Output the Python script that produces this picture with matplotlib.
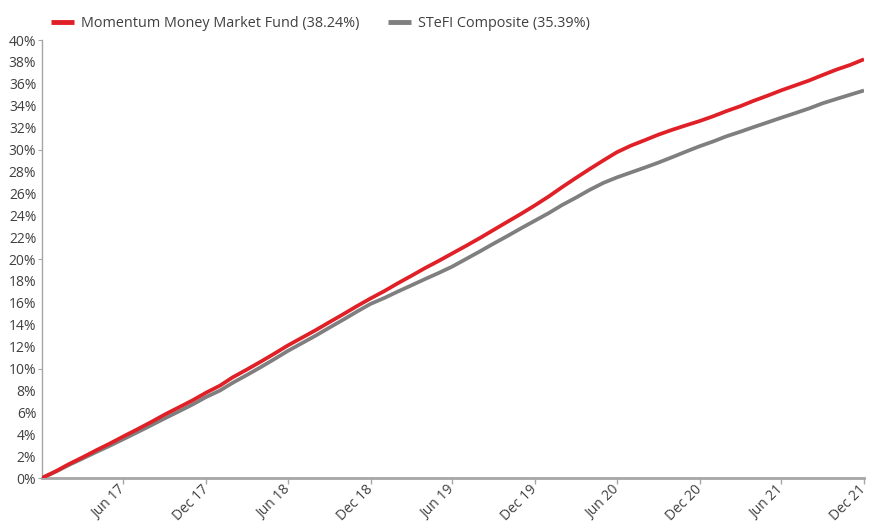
import matplotlib
matplotlib.use("Agg")
import matplotlib.pyplot as plt
import matplotlib.ticker as mticker
import pandas as pd

dates = pd.date_range("2016-12-31", "2021-12-31", freq="ME")

fund = [0.00, 0.62, 1.25, 1.88, 2.52, 3.15, 3.80, 4.45, 5.12, 5.80, 6.45, 7.08, 7.80,
        8.45, 9.20, 9.90, 10.60, 11.35, 12.10, 12.80, 13.50, 14.22, 14.95, 15.68, 16.40,
        17.08, 17.75, 18.45, 19.15, 19.82, 20.50, 21.20, 21.92, 22.65, 23.40, 24.12, 24.90,
        25.72, 26.55, 27.40, 28.20, 29.00, 29.75, 30.35, 30.85, 31.35, 31.80, 32.20, 32.60,
        33.05, 33.50, 33.95, 34.45, 34.92, 35.40, 35.85, 36.30, 36.80, 37.30, 37.72, 38.24]

stefi = [0.00, 0.58, 1.17, 1.77, 2.36, 2.95, 3.55, 4.18, 4.82, 5.45, 6.08, 6.70, 7.40,
         8.00, 8.70, 9.40, 10.10, 10.85, 11.60, 12.30, 13.00, 13.72, 14.45, 15.18, 15.90,
         16.45, 17.00, 17.58, 18.15, 18.72, 19.30, 20.00, 20.70, 21.40, 22.10, 22.80, 23.50,
         24.20, 24.92, 25.60, 26.30, 26.95, 27.45, 27.90, 28.35, 28.80, 29.30, 29.80, 30.30,
         30.75, 31.20, 31.62, 32.05, 32.48, 32.90, 33.32, 33.75, 34.22, 34.62, 35.00, 35.39]

tick_labels = ["Jun 17", "Dec 17", "Jun 18", "Dec 18", "Jun 19", "Dec 19",
               "Jun 20", "Dec 20", "Jun 21", "Dec 21"]
tick_dates = pd.to_datetime(["2017-06-30", "2017-12-31", "2018-06-30", "2018-12-31",
                             "2019-06-30", "2019-12-31", "2020-06-30", "2020-12-31",
                             "2021-06-30", "2021-12-31"])

series_names = ["Momentum Money Market Fund (38.24%)", "STeFI Composite (35.39%)"]

plt.rcParams['font.family'] = ['Open Sans', 'DejaVu Sans']
text_color = "#404040"
axis_color = "#a6a6a6"

fig = plt.figure(figsize=(8.73, 5.25), dpi=100)
ax = fig.add_axes([0.048, 0.0895, 0.9417, 0.8343])

ax.plot(dates, fund, color="#e02027", lw=2.7, label=series_names[0], zorder=3,
        solid_capstyle="butt")
ax.plot(dates, stefi, color="#7f7f7f", lw=2.7, label=series_names[1], zorder=2,
        solid_capstyle="butt")

ax.set_xlim(dates[0], dates[-1])
ax.set_ylim(0, 40)

ax.yaxis.set_major_locator(mticker.MultipleLocator(10))
ax.yaxis.set_minor_locator(mticker.MultipleLocator(2))
ax.yaxis.set_major_formatter(mticker.FuncFormatter(lambda v, p: f"{v:.0f}%"))
ax.yaxis.set_minor_formatter(mticker.FuncFormatter(lambda v, p: f"{v:.0f}%"))
ax.tick_params(axis='y', which='major', length=3, width=0.8, color=axis_color,
               labelsize=10, labelcolor=text_color, pad=1)
ax.tick_params(axis='y', which='minor', length=0, labelsize=10,
               labelcolor=text_color, pad=4)

ax.set_xticks(tick_dates)
ax.set_xticklabels(tick_labels, rotation=45, ha='right', va='center',
                   rotation_mode='anchor')
ax.tick_params(axis='x', length=4, width=1, color=axis_color, labelsize=10,
               labelcolor=text_color, pad=3)

for s in ["top", "right"]:
    ax.spines[s].set_visible(False)
ax.spines["left"].set_color(axis_color)
ax.spines["left"].set_linewidth(1.0)
ax.spines["bottom"].set_color(axis_color)
ax.spines["bottom"].set_linewidth(2.0)

leg = fig.legend(loc="upper left", bbox_to_anchor=(0.043, 0.994), ncol=2, frameon=False,
                 fontsize=10.4, handlelength=1.6, handletextpad=0.5, columnspacing=2.0,
                 labelcolor=text_color)
for line in leg.get_lines():
    line.set_linewidth(3.5)

fig.savefig("out.png", dpi=100)
